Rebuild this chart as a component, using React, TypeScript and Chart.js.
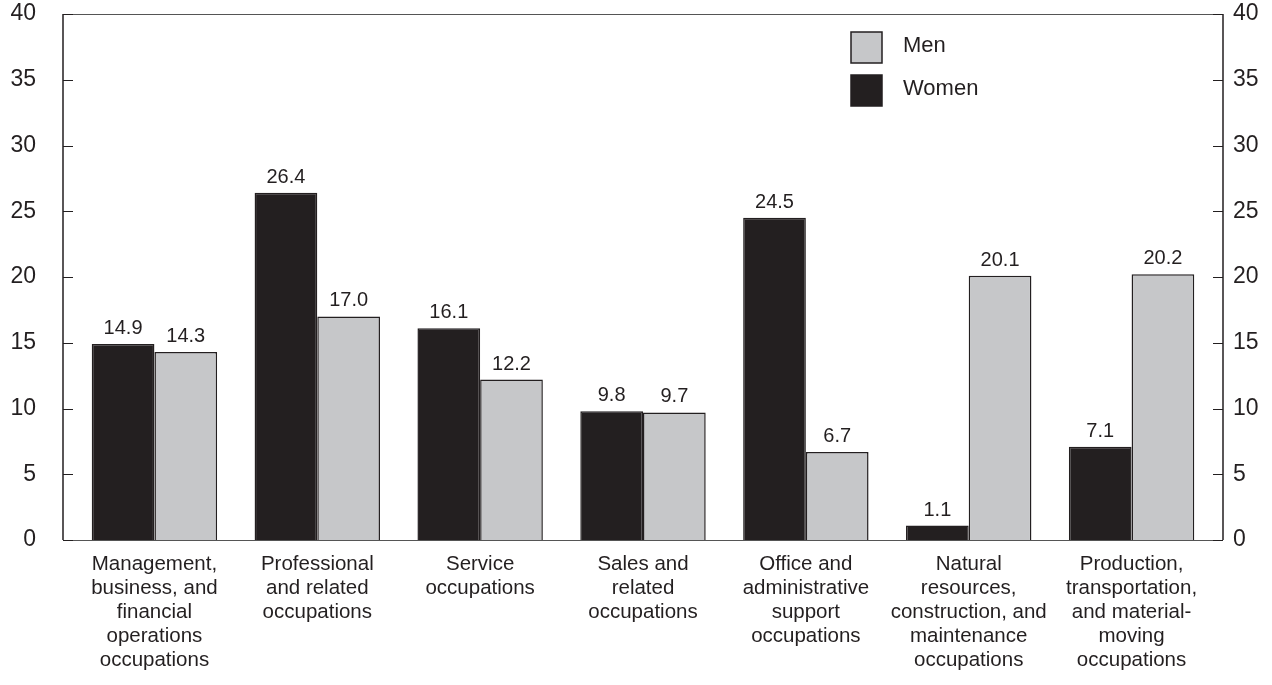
import React, { useEffect, useRef } from "react";
import { Chart, registerables } from "chart.js";

Chart.register(...registerables);

const categories: string[][] = [
  ["Management,", "business, and", "financial", "operations", "occupations"],
  ["Professional", "and related", "occupations"],
  ["Service", "occupations"],
  ["Sales and", "related", "occupations"],
  ["Office and", "administrative", "support", "occupations"],
  ["Natural", "resources,", "construction, and", "maintenance", "occupations"],
  ["Production,", "transportation,", "and material-", "moving", "occupations"],
];

const womenValues = [14.9, 26.4, 16.1, 9.8, 24.5, 1.1, 7.1];
const menValues = [14.3, 17.0, 12.2, 9.7, 6.7, 20.1, 20.2];

const yMin = 0;
const yMax = 40;
const yStep = 5;

const DARK = "#231f20";
const LIGHT = "#c6c7c9";
const FONT = "'Liberation Sans', Arial, Helvetica, sans-serif";

const framePlugin = {
  id: "frame",
  afterDraw(chart: any) {
    const { ctx, chartArea } = chart;
    const y = chart.scales.y;
    const L = chartArea.left - 10;
    const R = chartArea.right + 10;
    const T = y.getPixelForValue(yMax);
    const B = y.getPixelForValue(yMin);
    ctx.save();
    // top & bottom
    ctx.strokeStyle = "#555";
    ctx.lineWidth = 1;
    ctx.beginPath();
    ctx.moveTo(L, Math.round(T) + 0.5);
    ctx.lineTo(R, Math.round(T) + 0.5);
    ctx.moveTo(L, Math.round(B) + 0.5);
    ctx.lineTo(R, Math.round(B) + 0.5);
    ctx.stroke();
    // sides
    ctx.strokeStyle = DARK;
    ctx.lineWidth = 1.5;
    ctx.beginPath();
    ctx.moveTo(L, T);
    ctx.lineTo(L, B);
    ctx.moveTo(R, T);
    ctx.lineTo(R, B);
    ctx.stroke();
    // ticks
    ctx.lineWidth = 1.2;
    ctx.beginPath();
    for (let v = yMin; v <= yMax; v += yStep) {
      const py = Math.round(y.getPixelForValue(v)) + 0.5;
      ctx.moveTo(L, py);
      ctx.lineTo(L + 10, py);
      ctx.moveTo(R - 10, py);
      ctx.lineTo(R, py);
    }
    ctx.stroke();

    // data labels
    ctx.fillStyle = DARK;
    ctx.font = `20px ${FONT}`;
    ctx.textAlign = "center";
    ctx.textBaseline = "alphabetic";
    chart.data.datasets.forEach((ds: any, di: number) => {
      const meta = chart.getDatasetMeta(di);
      meta.data.forEach((bar: any, i: number) => {
        ctx.fillText(ds.data[i].toFixed(1), bar.x, bar.y - 10);
      });
    });

    // legend (Men first, then Women)
    const items = [
      { label: "Men", color: LIGHT, top: 32 },
      { label: "Women", color: DARK, top: 75 },
    ];
    ctx.font = `22px ${FONT}`;
    ctx.textAlign = "left";
    ctx.textBaseline = "middle";
    items.forEach((it) => {
      ctx.fillStyle = it.color;
      ctx.fillRect(851, it.top, 31, 31);
      ctx.strokeStyle = DARK;
      ctx.lineWidth = 1.5;
      ctx.strokeRect(851, it.top, 31, 31);
      ctx.fillStyle = DARK;
      ctx.fillText(it.label, 903, it.top + 14);
    });
    ctx.restore();
  },
};

export default function App() {
  const ref = useRef<HTMLCanvasElement | null>(null);
  useEffect(() => {
    if (!ref.current) return;
    const tickFont = { family: FONT, size: 23 };
    const chart = new Chart(ref.current, {
      type: "bar",
      data: {
        labels: categories,
        datasets: [
          {
            label: "Women",
            data: womenValues,
            backgroundColor: DARK,
            borderColor: DARK,
            borderWidth: 1.5,
            categoryPercentage: 0.77,
            barPercentage: 1,
            yAxisID: "y",
          },
          {
            label: "Men",
            data: menValues,
            backgroundColor: LIGHT,
            borderColor: DARK,
            borderWidth: 1.5,
            categoryPercentage: 0.77,
            barPercentage: 1,
            yAxisID: "y",
          },
        ],
      },
      options: {
        animation: false,
        responsive: true,
        maintainAspectRatio: false,
        layout: { padding: { top: 14, bottom: 0, left: 0, right: 0 } },
        plugins: {
          legend: { display: false },
          tooltip: { enabled: false },
        },
        scales: {
          x: {
            offset: true,
            grid: { display: false, drawTicks: true, tickLength: 12 },
            border: { display: false },
            ticks: {
              color: DARK,
              font: { family: FONT, size: 20.5, lineHeight: 24 / 20.5 },
              padding: 0,
              maxRotation: 0,
              minRotation: 0,
              autoSkip: false,
            },
            afterFit: (s: any) => {
              s.height = 145;
            },
          },
          y: {
            position: "left",
            min: yMin,
            max: yMax,
            grid: { display: false, drawTicks: true, tickLength: 37 },
            border: { display: false },
            ticks: { stepSize: yStep, color: DARK, font: tickFont, padding: 0 },
            afterFit: (s: any) => {
              s.width = 73;
            },
          },
          y2: {
            position: "right",
            min: yMin,
            max: yMax,
            grid: { display: false, drawTicks: true, tickLength: 20 },
            border: { display: false },
            ticks: { stepSize: yStep, color: DARK, font: tickFont, padding: 0 },
            afterFit: (s: any) => {
              s.width = 59;
            },
          },
        },
      },
      plugins: [framePlugin],
    } as any);
    return () => chart.destroy();
  }, []);

  return (
    <div style={{ position: "absolute", left: 0, top: 0, width: 1272, height: 685, background: "#fff" }}>
      <canvas ref={ref} />
    </div>
  );
}
